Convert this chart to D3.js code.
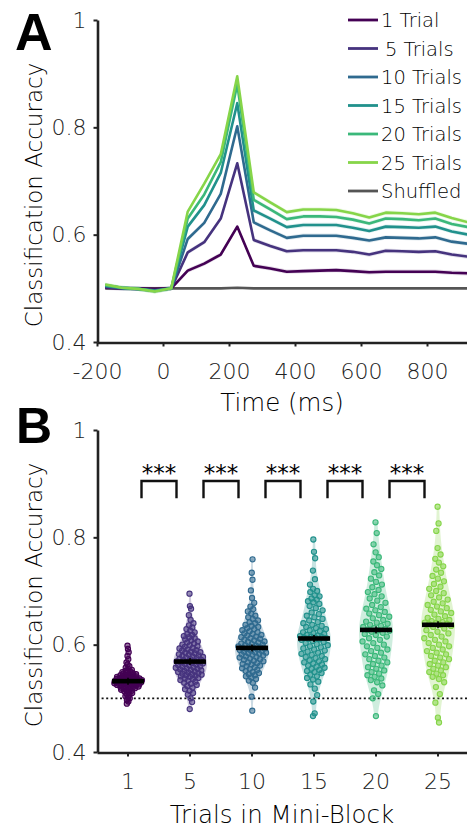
<!DOCTYPE html>
<html><head><meta charset="utf-8">
<script src="https://cdn.jsdelivr.net/npm/d3@7"></script>
<style>body{margin:0;background:#fff}svg{display:block}</style>
</head><body>
<svg id="c" width="467" height="829"></svg>
<script>
// ---------- DATA ----------
const times = [-175,-125,-75,-25,25,75,125,175,225,275,325,375,425,475,525,575,625,675,725,775,825,875,925,975];
const seriesNames = ["1 Trial","5 Trials","10 Trials","15 Trials","20 Trials","25 Trials","Shuffled"];
const trial1  = [0.501,0.500,0.500,0.499,0.500,0.533,0.546,0.563,0.615,0.542,0.537,0.531,0.532,0.533,0.534,0.532,0.530,0.531,0.531,0.531,0.531,0.529,0.528,0.528];
const trial5  = [0.502,0.500,0.499,0.497,0.500,0.567,0.586,0.630,0.733,0.590,0.579,0.569,0.571,0.571,0.571,0.568,0.563,0.570,0.569,0.568,0.569,0.563,0.559,0.558];
const trial10 = [0.504,0.500,0.499,0.496,0.500,0.592,0.622,0.676,0.802,0.623,0.608,0.594,0.598,0.598,0.598,0.594,0.589,0.595,0.594,0.593,0.595,0.587,0.583,0.581];
const trial15 = [0.505,0.501,0.499,0.495,0.500,0.615,0.655,0.715,0.845,0.645,0.630,0.614,0.618,0.618,0.618,0.613,0.607,0.615,0.614,0.613,0.615,0.606,0.600,0.598];
const trial20 = [0.506,0.501,0.499,0.495,0.500,0.630,0.675,0.735,0.880,0.665,0.647,0.629,0.634,0.634,0.633,0.628,0.621,0.630,0.629,0.627,0.630,0.620,0.614,0.612];
const trial25 = [0.507,0.501,0.499,0.494,0.500,0.643,0.695,0.750,0.895,0.679,0.660,0.642,0.647,0.647,0.646,0.640,0.632,0.641,0.640,0.638,0.641,0.631,0.623,0.621];
const shuffled= [0.500,0.500,0.500,0.500,0.500,0.500,0.500,0.500,0.501,0.500,0.500,0.500,0.500,0.500,0.500,0.500,0.500,0.500,0.500,0.500,0.500,0.500,0.500,0.500];
const seriesColors = ["#440154","#46337e","#2f6a8f","#21918c","#3bb87a","#86d549","#555555"];
const xTicksA = [-200,0,200,400,600,800];
const yTicksA = [0.4,0.6,0.8,1];

const groupLabels = ["1","5","10","15","20","25"];
const g1  = [0.598,0.592,0.586,0.579,0.573,0.567,0.563,0.560,0.557,0.555,0.553,0.551,0.550,0.549,0.548,0.547,0.546,0.545,0.545,0.544,0.543,0.543,0.542,0.541,0.541,0.540,0.540,0.539,0.539,0.538,0.538,0.537,0.537,0.536,0.536,0.536,0.535,0.535,0.534,0.534,0.534,0.533,0.533,0.533,0.532,0.532,0.532,0.532,0.531,0.531,0.531,0.531,0.530,0.530,0.530,0.530,0.529,0.529,0.529,0.528,0.528,0.528,0.527,0.527,0.527,0.526,0.526,0.525,0.525,0.524,0.524,0.523,0.523,0.522,0.522,0.521,0.520,0.520,0.519,0.518,0.517,0.516,0.515,0.514,0.513,0.512,0.510,0.508,0.506,0.504,0.502,0.500,0.497,0.494,0.490];
const g5  = [0.695,0.672,0.667,0.655,0.646,0.640,0.636,0.632,0.629,0.626,0.623,0.620,0.618,0.616,0.614,0.612,0.610,0.608,0.606,0.604,0.602,0.600,0.599,0.597,0.596,0.594,0.593,0.591,0.590,0.589,0.587,0.586,0.585,0.584,0.582,0.581,0.580,0.579,0.578,0.577,0.576,0.575,0.574,0.573,0.572,0.571,0.570,0.569,0.568,0.567,0.567,0.566,0.565,0.564,0.563,0.562,0.561,0.560,0.559,0.558,0.557,0.556,0.555,0.554,0.553,0.552,0.551,0.550,0.549,0.548,0.547,0.546,0.545,0.544,0.543,0.542,0.541,0.540,0.538,0.537,0.536,0.534,0.533,0.531,0.529,0.527,0.525,0.523,0.520,0.517,0.514,0.510,0.507,0.500,0.493,0.480];
const g10 = [0.759,0.734,0.721,0.701,0.687,0.678,0.671,0.666,0.662,0.658,0.654,0.651,0.648,0.645,0.642,0.640,0.637,0.635,0.633,0.631,0.629,0.627,0.625,0.623,0.621,0.620,0.618,0.617,0.615,0.614,0.612,0.611,0.609,0.608,0.606,0.605,0.604,0.602,0.601,0.600,0.599,0.598,0.597,0.596,0.595,0.594,0.594,0.593,0.592,0.591,0.590,0.589,0.588,0.587,0.586,0.585,0.584,0.583,0.582,0.581,0.580,0.578,0.577,0.576,0.574,0.573,0.572,0.570,0.569,0.567,0.566,0.564,0.563,0.561,0.560,0.558,0.556,0.555,0.553,0.551,0.549,0.547,0.545,0.543,0.541,0.539,0.536,0.533,0.529,0.520,0.503,0.477];
const g15 = [0.796,0.773,0.761,0.738,0.722,0.712,0.704,0.700,0.698,0.692,0.690,0.686,0.684,0.681,0.679,0.676,0.672,0.668,0.664,0.660,0.657,0.654,0.651,0.648,0.645,0.642,0.640,0.637,0.635,0.633,0.631,0.629,0.627,0.625,0.623,0.621,0.620,0.618,0.617,0.616,0.615,0.614,0.613,0.613,0.612,0.611,0.610,0.609,0.607,0.605,0.603,0.601,0.599,0.597,0.595,0.593,0.591,0.589,0.587,0.585,0.583,0.581,0.579,0.577,0.575,0.573,0.571,0.569,0.567,0.565,0.563,0.561,0.559,0.557,0.555,0.553,0.551,0.549,0.547,0.544,0.541,0.538,0.535,0.531,0.526,0.518,0.506,0.494,0.472,0.467];
const g20 = [0.828,0.808,0.787,0.772,0.763,0.755,0.748,0.741,0.735,0.729,0.723,0.717,0.712,0.707,0.702,0.698,0.694,0.690,0.686,0.682,0.678,0.674,0.670,0.667,0.664,0.661,0.658,0.655,0.652,0.649,0.646,0.643,0.641,0.639,0.637,0.635,0.633,0.631,0.629,0.628,0.627,0.626,0.624,0.622,0.620,0.618,0.615,0.612,0.609,0.606,0.603,0.600,0.597,0.594,0.591,0.588,0.585,0.582,0.579,0.576,0.573,0.570,0.567,0.564,0.561,0.558,0.555,0.552,0.549,0.546,0.543,0.540,0.537,0.534,0.530,0.524,0.515,0.508,0.500,0.467];
const g25 = [0.857,0.826,0.812,0.780,0.768,0.760,0.753,0.746,0.740,0.734,0.728,0.723,0.718,0.713,0.708,0.704,0.700,0.696,0.692,0.688,0.684,0.680,0.677,0.674,0.671,0.668,0.665,0.662,0.659,0.656,0.653,0.650,0.648,0.646,0.644,0.642,0.641,0.640,0.639,0.638,0.637,0.635,0.633,0.630,0.627,0.624,0.621,0.618,0.615,0.612,0.609,0.606,0.603,0.600,0.597,0.594,0.591,0.588,0.585,0.582,0.579,0.576,0.573,0.570,0.567,0.564,0.561,0.558,0.555,0.552,0.549,0.546,0.543,0.540,0.536,0.530,0.521,0.508,0.492,0.464,0.455];
const groupColors = ["#440154","#46337e","#2f6a8f","#21918c","#3bb87a","#86d549"];
const sigPairs = [[0,1],[1,2],[2,3],[3,4],[4,5]];
const sigLabel = "***";
const yTicksB = [0.4,0.6,0.8,1];
const chanceLevel = 0.5;

// ---------- DRAW ----------
const svg = d3.select("#c");
const FONT = "'DejaVu Sans', sans-serif";
const fmtY = d => d === 1 ? "1" : d.toFixed(1);

function styleAxis(g){
  g.select(".domain").attr("stroke","#222").attr("stroke-width",2.6);
  g.selectAll(".tick line").attr("stroke","#222").attr("stroke-width",2);
  g.selectAll(".tick text").attr("fill","#222").style("font-family",FONT)
    .style("font-weight","300").style("font-size","22px");
}
function label(sel){ return sel.style("font-family",FONT).style("font-weight","300").attr("fill","#000"); }

// Panel A
const xA = d3.scaleLinear().domain([-200,1000]).range([97, 97+1200*0.33]);
const yA = d3.scaleLinear().domain([0.4,1]).range([342,20]);
const seriesData = [trial1,trial5,trial10,trial15,trial20,trial25,shuffled];

const gA = svg.append("g");
const area = d3.area().x((d,i)=>xA(times[i])).y0(d=>yA(d-0.004)).y1(d=>yA(d+0.004));
const line = d3.line().x((d,i)=>xA(times[i])).y(d=>yA(d));
seriesData.forEach((s,k)=>{
  if(k<6) gA.append("path").attr("d",area(s)).attr("fill",seriesColors[k]).attr("opacity",0.15);
});
[6,0,1,2,3,4,5].forEach(k=>{
  gA.append("path").attr("d",line(seriesData[k])).attr("fill","none")
    .attr("stroke",seriesColors[k]).attr("stroke-width",2.6).attr("stroke-linejoin","round");
});
const axA_y = gA.append("g").attr("transform","translate(97.5,0)")
  .call(d3.axisLeft(yA).tickValues(yTicksA).tickFormat(fmtY).tickSize(4).tickSizeOuter(0).tickPadding(7));
styleAxis(axA_y);
const axA_x = gA.append("g").attr("transform","translate(0,342.5)")
  .call(d3.axisBottom(xA).tickValues(xTicksA).tickFormat(d=>String(d)).tickSize(4).tickSizeOuter(0).tickPadding(17));
styleAxis(axA_x);

// legend
const leg = gA.append("g");
seriesNames.forEach((n,k)=>{
  const y = 20 + k*28.5;
  leg.append("line").attr("x1",348).attr("x2",378).attr("y1",y).attr("y2",y)
    .attr("stroke",seriesColors[k]).attr("stroke-width",2.8);
  label(leg.append("text").attr("x", n==="5 Trials"?385:381).attr("y",y+7).text(n)).style("font-size","19.5px");
});

label(svg.append("text").attr("transform","translate(42,195) rotate(-90)").attr("text-anchor","middle")
  .text("Classification Accuracy")).style("font-size","23px");
label(svg.append("text").attr("x",282).attr("y",411).attr("text-anchor","middle")
  .text("Time (ms)")).style("font-size","24.5px");
svg.append("text").attr("x",15).attr("y",50).text("A")
  .style("font-family","'Liberation Sans', Arial, sans-serif").style("font-weight","bold").style("font-size","52px");

// Panel B
const groupData = [g1,g5,g10,g15,g20,g25];
const xB = d3.scaleBand().domain(groupLabels).range([97,469]).padding(0);
const yB = d3.scaleLinear().domain([0.4,1]).range([752,430]);
const gB = svg.append("g");

gB.append("line").attr("x1",97).attr("x2",467).attr("y1",yB(chanceLevel)).attr("y2",yB(chanceLevel))
  .attr("stroke","#111").attr("stroke-width",1.6).attr("stroke-dasharray","2,2.6");

groupData.forEach((vals,gi)=>{
  const cx = xB(groupLabels[gi]) + xB.bandwidth()/2;
  const n = vals.length;
  const sd = d3.deviation(vals);
  const bw = 1.0*sd*Math.pow(n,-0.2);
  const kde = v => d3.mean(vals, d=>Math.exp(-0.5*((v-d)/bw)**2));
  const ext = d3.extent(vals);
  const ys = d3.range(0,61).map(i=>ext[0]+(ext[1]-ext[0])*i/60);
  const maxD = d3.max(ys,kde);
  const vArea = d3.area().y(d=>yB(d)).x0(d=>cx-17*kde(d)/maxD).x1(d=>cx+17*kde(d)/maxD).curve(d3.curveBasis);
  gB.append("path").attr("d",vArea(ys)).attr("fill",groupColors[gi]).attr("opacity",0.25);
  const sorted = vals.slice().sort((a,b)=>a-b);
  sorted.forEach((v,i)=>{
    const u = ((i*0.6180339887 + gi*0.37)%1)*2-1;
    const x = cx + u*14.5*kde(v)/maxD;
    gB.append("circle").attr("cx",x).attr("cy",yB(v)).attr("r",2.6)
      .attr("fill",groupColors[gi]).attr("fill-opacity",0.55)
      .attr("stroke",groupColors[gi]).attr("stroke-width",1.1);
  });
  const med = d3.median(vals);
  gB.append("rect").attr("x",cx-16).attr("y",yB(med)-2.3).attr("width",32).attr("height",4.6).attr("fill","#000");
  gB.append("line").attr("x1",cx).attr("x2",cx).attr("y1",yB(med)-3.5).attr("y2",yB(med)+3.5).attr("stroke","#000").attr("stroke-width",1.5);
});

sigPairs.forEach(([a,b])=>{
  const xa = xB(groupLabels[a]) + xB.bandwidth()/2, xb = xB(groupLabels[b]) + xB.bandwidth()/2;
  const m = (xa+xb)/2;
  const top = yB(0.905), bot = yB(0.873);
  gB.append("path").attr("d",`M${m-17.5},${bot}V${top}H${m+17.5}V${bot}`)
    .attr("fill","none").attr("stroke","#111").attr("stroke-width",2.4);
  gB.append("text").attr("x",m).attr("y",top).attr("text-anchor","middle").text(sigLabel)
    .style("font-family",FONT).style("font-size","23px").attr("fill","#000");
});

const axB_y = gB.append("g").attr("transform","translate(97.5,0)")
  .call(d3.axisLeft(yB).tickValues(yTicksB).tickFormat(fmtY).tickSize(4).tickSizeOuter(0).tickPadding(7));
styleAxis(axB_y);
const axB_x = gB.append("g").attr("transform","translate(0,752.5)")
  .call(d3.axisBottom(xB).tickSize(4).tickSizeOuter(0).tickPadding(17));
styleAxis(axB_x);

label(svg.append("text").attr("transform","translate(42,595) rotate(-90)").attr("text-anchor","middle")
  .text("Classification Accuracy")).style("font-size","23px");
label(svg.append("text").attr("x",282).attr("y",823).attr("text-anchor","middle")
  .text("Trials in Mini-Block")).style("font-size","24.5px");
svg.append("text").attr("x",16).attr("y",443).text("B")
  .style("font-family","'Liberation Sans', Arial, sans-serif").style("font-weight","bold").style("font-size","50px");
</script>
</body></html>
